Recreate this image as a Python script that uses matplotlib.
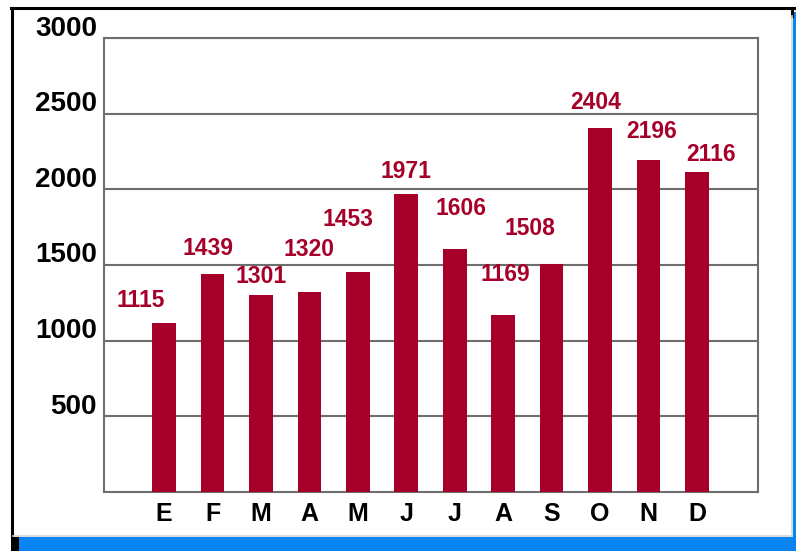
import matplotlib.pyplot as plt
from matplotlib.patches import Rectangle
from matplotlib.lines import Line2D
from matplotlib.transforms import ScaledTranslation

# Datos
meses = ["E", "F", "M", "A", "M", "J", "J", "A", "S", "O", "N", "D"]
valores = [1115, 1439, 1301, 1320, 1453, 1971, 1606, 1169, 1508, 2404, 2196, 2116]
marcas_y = [500, 1000, 1500, 2000, 2500, 3000]

# desplazamiento de cada etiqueta (pixeles) respecto a la punta de la barra
desplazamientos = [(-23, 23), (-5, 26), (0, 19), (0, 43), (-10, 53), (0, 22),
                   (6, 40), (2, 41), (-22, 35), (-4, 26), (3, 28), (14, 17)]

rojo = "#a6002a"
azul = "#0a84f0"
gris = "#6e6e6e"

plt.rcParams['font.family'] = ['Liberation Sans', 'DejaVu Sans']

fig = plt.figure(figsize=(7.96, 5.51), dpi=100)
ax = fig.add_axes([104 / 796, 1 - 492 / 551, 653.5 / 796, 454 / 551])

x = list(range(len(meses)))
ax.bar(x, valores, width=0.49, color=rojo, zorder=3)

for i, v in enumerate(valores):
    dx, dy = desplazamientos[i]
    ax.annotate(str(v), (i, v), xytext=(dx, dy), textcoords="offset pixels",
                ha="center", va="center", color=rojo, fontsize=16.5,
                fontweight="bold", zorder=4)

ax.set_xlim(-1.24, 12.25)
ax.set_ylim(0, 3000)
ax.set_xticks(x)
ax.set_xticklabels(meses, fontsize=18, fontweight="bold")
ax.set_yticks(marcas_y)
ax.set_yticklabels([str(m) for m in marcas_y], fontsize=20, fontweight="bold")
ax.tick_params(axis="both", length=0)
ax.tick_params(axis="x", pad=7)
ax.tick_params(axis="y", pad=5)
for lbl in ax.get_yticklabels():
    lbl.set_transform(lbl.get_transform() + ScaledTranslation(0, 9 / 72, fig.dpi_scale_trans))

ax.yaxis.grid(True, color=gris, linewidth=1.5, zorder=0)
ax.set_axisbelow(True)
for s in ax.spines.values():
    s.set_color(gris)
    s.set_linewidth(1.5)

# marco de la imagen
H = 551
W = 796
fig.add_artist(Rectangle((19 / W, 0), 1, 14 / H, transform=fig.transFigure,
                         color=azul, lw=0))
fig.add_artist(Rectangle((793 / W, 0), 3 / W, 1 - 12 / H, transform=fig.transFigure,
                         color=azul, lw=0))
fig.add_artist(Rectangle((11 / W, 0), 8 / W, 14 / H, transform=fig.transFigure,
                         color="black", lw=0))
fig.add_artist(Line2D([11.5 / W, 11.5 / W], [0, 1 - 8 / H], transform=fig.transFigure,
                      color="black", lw=2.2))
fig.add_artist(Line2D([11 / W, 794 / W], [1 - 8 / H, 1 - 8 / H], transform=fig.transFigure,
                      color="black", lw=2.2))
fig.add_artist(Line2D([792 / W, 792 / W], [1 - 8 / H, 1 - 16 / H], transform=fig.transFigure,
                      color="black", lw=2.2))
fig.add_artist(Line2D([13 / W, 792 / W], [15 / H, 15 / H], transform=fig.transFigure,
                      color="#d6d6d6", lw=1.2))
fig.add_artist(Line2D([791.5 / W, 791.5 / W], [15 / H, 1 - 16 / H], transform=fig.transFigure,
                      color="#d6d6d6", lw=1.2))

fig.savefig("out.png", dpi=100)
